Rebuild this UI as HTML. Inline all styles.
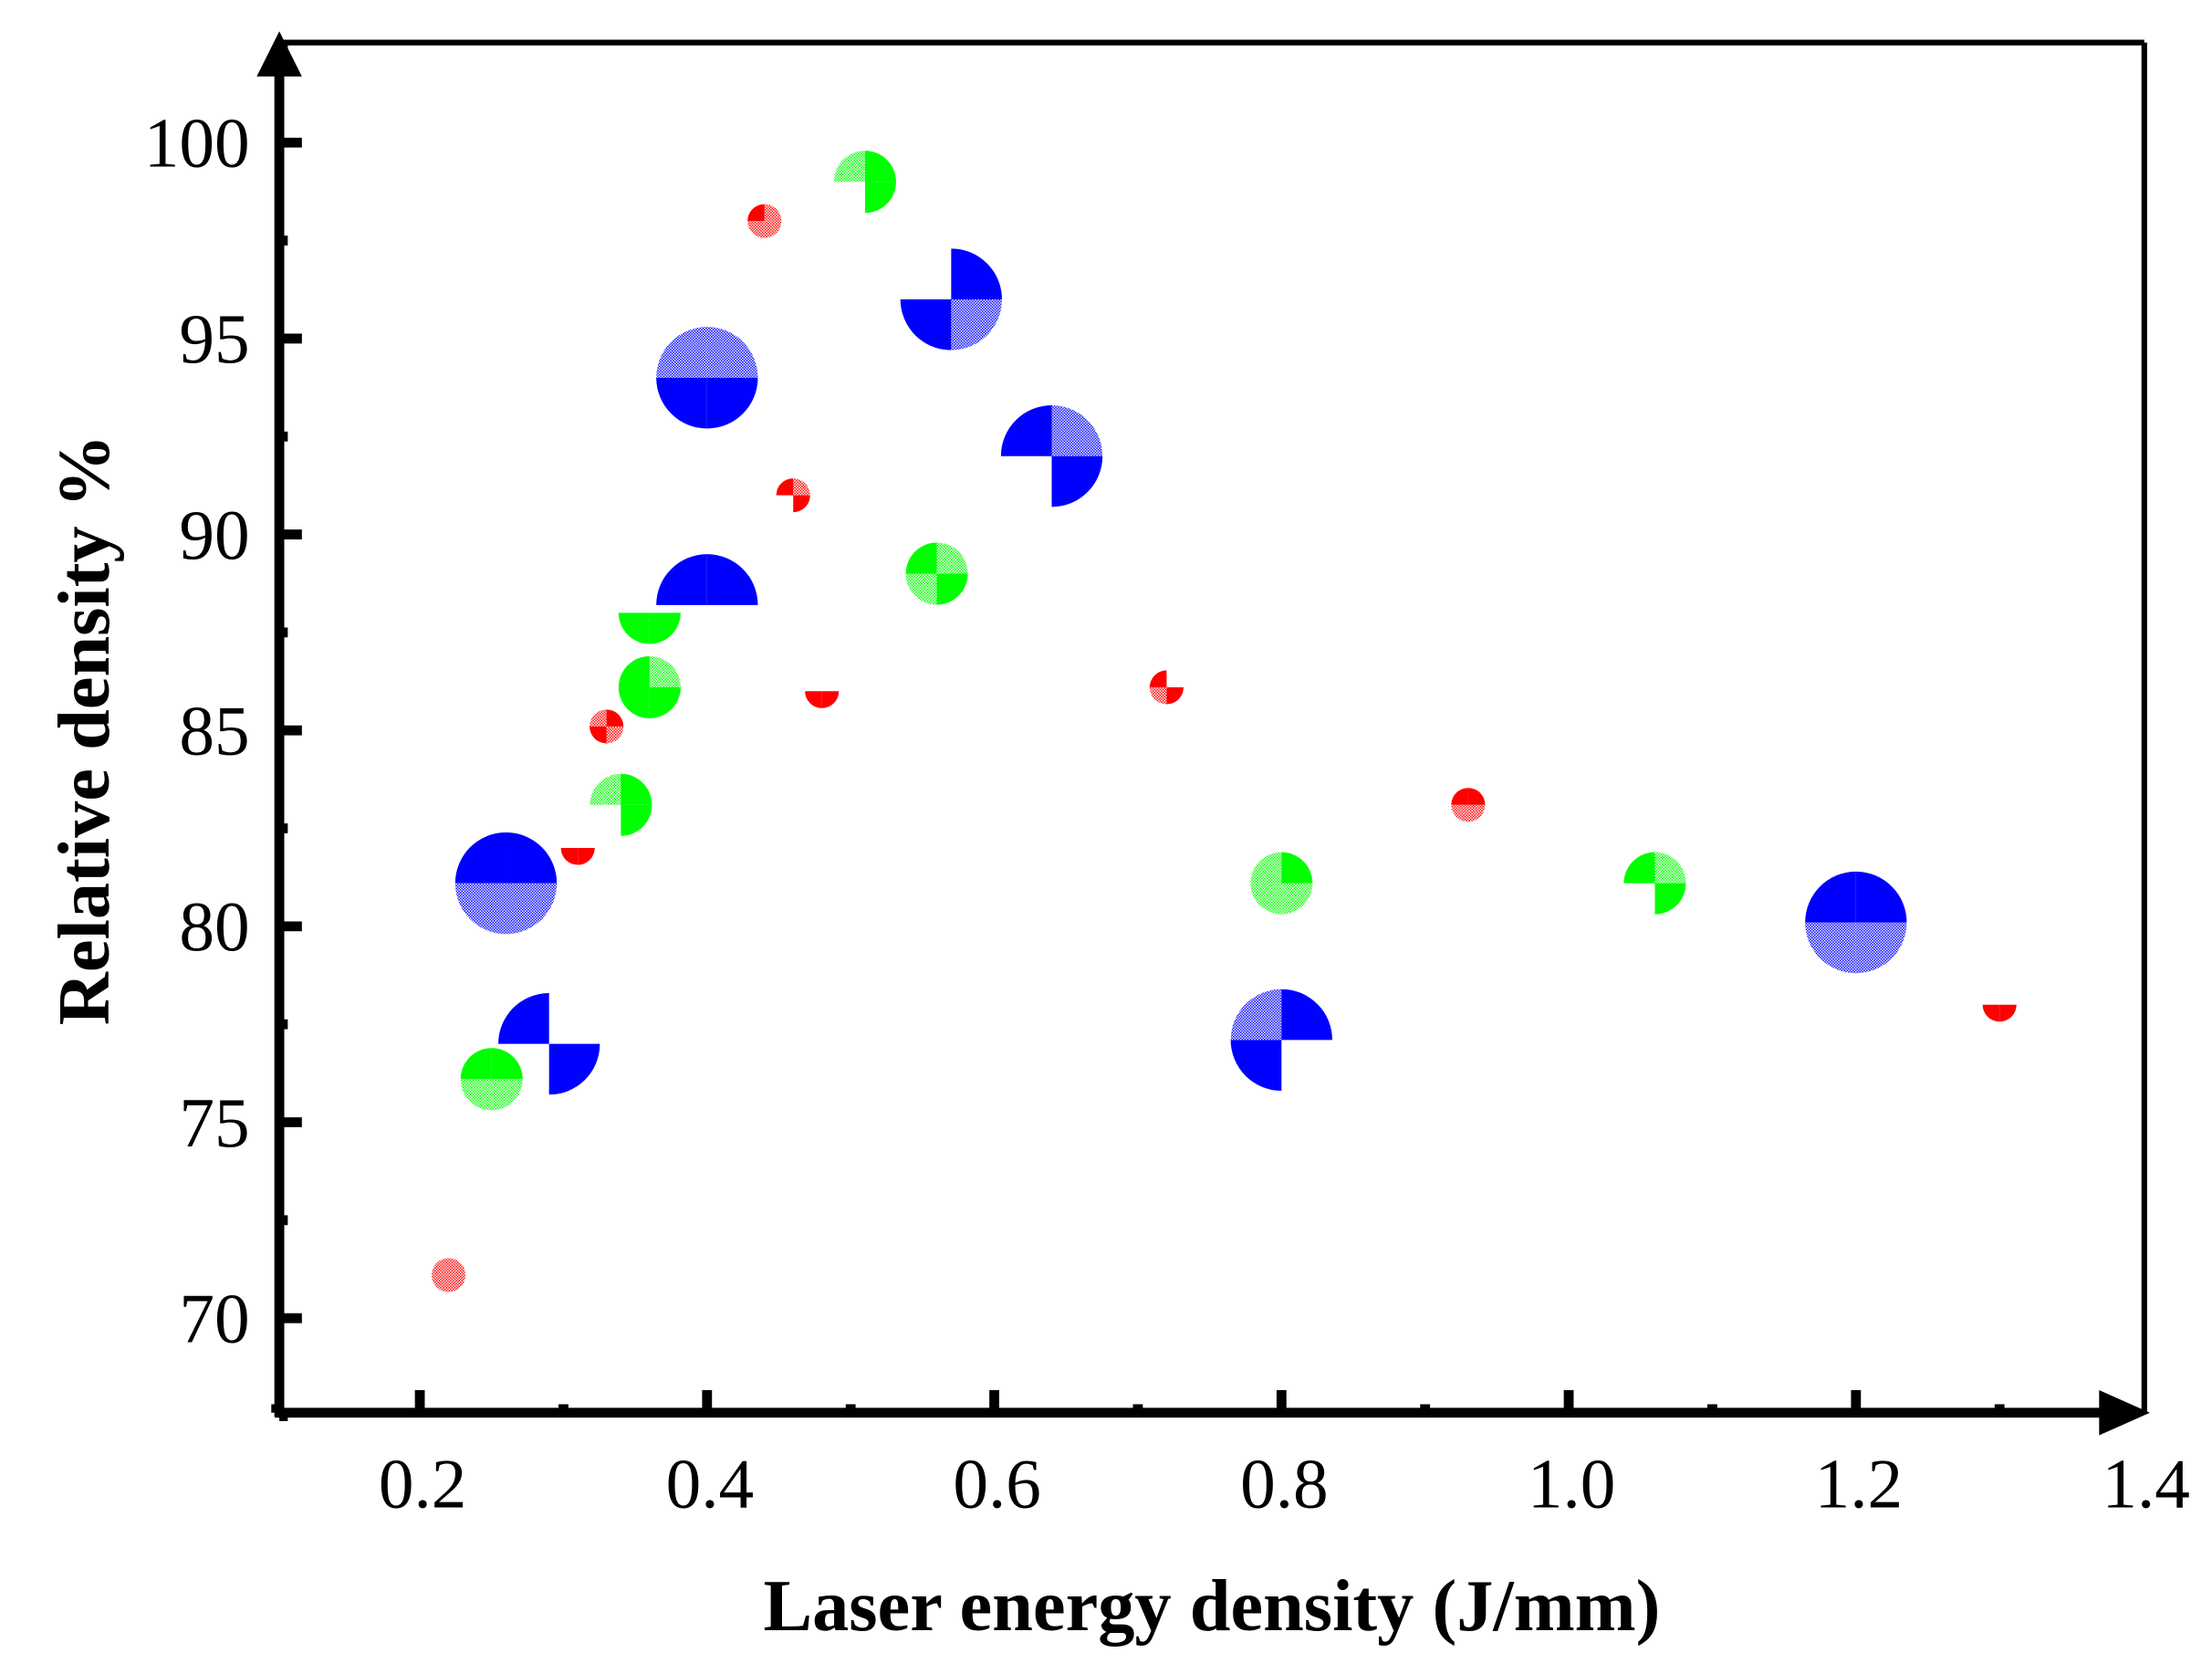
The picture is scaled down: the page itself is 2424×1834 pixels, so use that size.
<!DOCTYPE html>
<html><head><meta charset="utf-8"><style>html,body{margin:0;padding:0;background:#fff}svg{display:block}</style></head>
<body>
<svg id="chart" width="2424" height="1834" viewBox="0 0 1568 1186" xmlns="http://www.w3.org/2000/svg" font-family="'Liberation Serif', serif">
<defs>
<pattern id="pr" width="2" height="2" patternUnits="userSpaceOnUse"><rect width="1" height="1" fill="#f00"/><rect x="1" y="1" width="1" height="1" fill="#f00"/></pattern>
<pattern id="pg" width="2" height="2" patternUnits="userSpaceOnUse"><rect width="1" height="1" fill="#0f0"/><rect x="1" y="1" width="1" height="1" fill="#0f0"/></pattern>
<pattern id="pb" width="2" height="2" patternUnits="userSpaceOnUse"><rect width="1" height="1" fill="#00f"/><rect x="1" y="1" width="1" height="1" fill="#00f"/></pattern>
</defs>
<g id="marks"></g>
<g id="axes"></g>
<text transform="translate(77,517) rotate(-90)" text-anchor="middle" font-size="52" font-weight="bold">Relative density %</text>
<text x="859" y="1155" text-anchor="middle" font-size="52" font-weight="bold">Laser energy density (J/mm)</text>
</svg>
<script>
const redX=[0.22,0.31,0.33,0.44,0.46,0.48,0.72,0.93,1.30];
const redY=[71.1,82,85.1,98,91,86,86.1,83.1,78];
const redQ=["LLLL","NNSS","LSSL","SLLL","SLNS","NNSS","SNLS","SSLL","NNSS"];
const greenX=[0.25,0.34,0.36,0.36,0.51,0.56,0.80,1.06];
const greenY=[76.1,83.1,86.1,88,99,89,81.1,81.1];
const greenQ=["SSLL","LSNS","SLSS","NNSS","LSNS","SLLS","LSLL","SLNS"];
const blueX=[0.26,0.29,0.40,0.40,0.57,0.64,0.80,1.20];
const blueY=[81.1,77,94,88.2,96,92,77.1,80.1];
const blueQ=["SSLL","SNNS","LLSS","SSNN","NSSL","SLNS","LSSN","SSLL"];
const xTicks=[0.2,0.4,0.6,0.8,1.0,1.2,1.4];
const yTicks=[70,75,80,85,90,95,100];

const NS="http://www.w3.org/2000/svg";
const L=198,R=1520,T=30,B=1001;
function sx(v){return 94+1018*v;}
function sy(v){return 934-(v-70)*27.77;}
function mk(tag,attrs,parent){const e=document.createElementNS(NS,tag);for(const k in attrs)e.setAttribute(k,attrs[k]);parent.appendChild(e);return e;}
const marks=document.getElementById('marks');
const axes=document.getElementById('axes');
const quadDir=[[-1,-1],[1,-1],[-1,1],[1,1]];
function drawSeries(xs,ys,qs,r,solid,light,name){
  for(let i=0;i<xs.length;i++){
    const cx=sx(xs[i]),cy=sy(ys[i]);
    const g=mk('g',{},marks);
    
    
    for(let q=0;q<4;q++){
      const c=qs[i][q];if(c==='N')continue;
      const [dx,dy]=quadDir[q];
      const x1=cx+dx*r,y2=cy+dy*r;
      const sweep=(dx*dy>0)?1:0;
      const d=`M${cx},${cy} L${x1},${cy} A${r},${r} 0 0 ${sweep} ${cx},${y2} Z`;
      const p=mk('path',{d:d,fill:c==='S'?solid:light},g);
      
      
    }
  }
}
drawSeries(blueX,blueY,blueQ,36,'#00f','url(#pb)','blue');
drawSeries(greenX,greenY,greenQ,22,'#0f0','url(#pg)','green');
drawSeries(redX,redY,redQ,12,'#f00','url(#pr)','red');

mk('line',{x1:L,y1:T,x2:R,y2:T,stroke:'#000','stroke-width':4},axes);
mk('line',{x1:R,y1:T,x2:R,y2:B,stroke:'#000','stroke-width':4},axes);
mk('line',{x1:L,y1:B+3,x2:L,y2:T+8,stroke:'#000','stroke-width':7},axes);
mk('line',{x1:L-3,y1:B,x2:R-10,y2:B,stroke:'#000','stroke-width':7},axes);
const ya=mk('polygon',{points:`${L-16},${T+24} ${L},${T-8} ${L+16},${T+24}`,fill:'#000'},axes);

const xa=mk('polygon',{points:`${R-32},${B-16} ${R+4},${B} ${R-32},${B+16}`,fill:'#000'},axes);

for(let v=67.5;v<=102.5;v+=2.5){
  const y=sy(v);const major=(v%5===0);
  mk('line',{x1:L,y1:y,x2:L+(major?16:6),y2:y,stroke:'#000','stroke-width':7},axes);
}
yTicks.forEach(v=>{
  const t=mk('text',{x:177,y:sy(v)+17,'text-anchor':'end','font-size':50},axes);
  t.textContent=String(v);
  
  
});
for(let k=1;k<=13;k++){
  const v=k*0.1;const x=sx(v);const major=(k%2===0);
  if(x>=R-5)continue;
  mk('line',{x1:x,y1:B,x2:x,y2:B-(major?16:6),stroke:'#000','stroke-width':7},axes);
}
xTicks.forEach(v=>{
  const t=mk('text',{x:sx(v)+2,y:1068,'text-anchor':'middle','font-size':50},axes);
  t.textContent=v.toFixed(1);
  
  
});
</script>
</body></html>
